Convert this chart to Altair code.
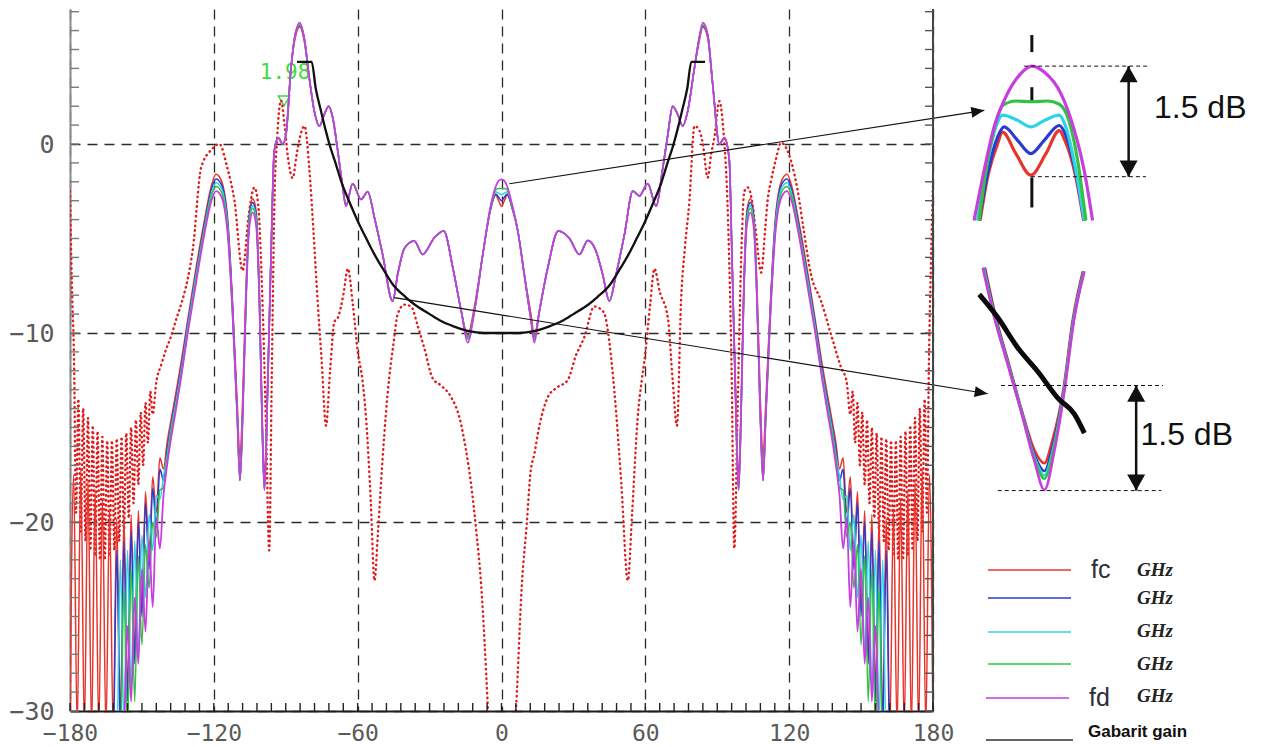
import math
import altair as alt
import pandas as pd

# ------------------------------------------------------------------
# Main radiation pattern: angle (deg) and gain (dB)
# ------------------------------------------------------------------
ANGLE = [
    -180, -178.5, -177, -175.5, -174, -172.5, -171, -169.5, -168, -166.5,
    -165, -163.5, -162, -160.5, -159, -157.5, -156, -154.5, -153, -151.5,
    -150, -148.5, -147, -145.5, -144, -142.5, -141,
    -139.5, -138, -136, -133.7, -131, -128, -124, -121, -119.1, -117,
    -114.2, -112.1, -110.2, -109.1, -108, -106.6, -105.2, -103.8, -102.4, -101,
    -99.9, -98.9, -97.5, -96.1, -94.8, -93.1, -91.3, -89.9, -87.8, -85.7,
    -84.2, -82.3, -80.2, -78.1, -76, -73.9, -72.1, -70.4, -68.3, -66.2,
    -64.9, -62.1, -58.6, -55.8, -53, -49.6, -45.4, -43.3, -40.5, -36.4,
    -32.9, -28, -24.1, -20.3, -16.8, -14.1, -11.3, -7.8, -4.4, -2.4, -1.2, 0,
    1.2, 2.4, 4.4, 6.8, 9.5, 12.3, 13.7, 15.8, 19.3, 23.7, 28.3, 32.5, 36, 39.4,
    42.2, 45, 47.8, 51.3, 54.8, 57.5, 61, 64.5, 67.3, 69.4, 71.4, 73.5, 75.6,
    77.7, 80.5, 82.5, 84, 86, 88.1, 90.9, 93, 95, 96.1, 97.5, 98.9, 99.9, 101,
    102.4, 103.8, 105.2, 106.6, 108, 109.1, 110.2, 112.1, 114.2, 117, 119.1,
    121, 124, 128, 131, 133.7, 136, 138, 139.5,
    141, 142.5, 144, 145.5, 147, 148.5, 150, 151.5, 153, 154.5, 156, 157.5,
    159, 160.5, 162, 163.5, 165, 166.5, 168, 169.5, 171, 172.5, 174, 175.5,
    177, 178.5, 180,
]

# fd (magenta) curve
GAIN_FD = [
    -32, -32, -32, -32, -32, -32, -32, -32, -32, -32,
    -32, -32, -32, -32, -32, -31, -25.5, -29.5, -24, -27.5,
    -22.5, -25.8, -21.0, -24.5, -19.8, -21.4, -18.6,
    -17.0, -15.7, -14.2, -12.4, -10.1, -7.8, -4.8, -3.0, -2.49, -2.75,
    -4.8, -9.2, -14.5, -17.8, -14.5, -8.3, -4.4, -3.63, -4.25, -8.3,
    -14.5, -18.3, -12.7, -5.7, -0.37, 0.33, 0.0, 0.5, 4.04, 5.98,
    6.42, 5.62, 3.51, 1.75, 0.95, 1.57, 2.0, 1.39, -0.37, -2.31,
    -3.28, -2.1, -2.93, -2.52, -3.9, -5.84, -8.31, -6.9, -5.52, -5.13,
    -5.84, -4.96, -4.6, -6.55, -8.84, -10.51, -8.84, -5.84, -3.19, -2.25, -1.95, -1.87,
    -1.95, -2.25, -3.19, -4.6, -6.9, -9.3, -10.51, -8.84, -6.55, -4.6, -4.99, -5.84, -5.1, -5.66,
    -6.9, -8.31, -6.9, -4.78, -2.49, -2.75, -2.1, -3.28, -1.25, 0.51, 2.0, 1.57, 0.95,
    1.75, 4.04, 5.62, 6.42, 5.8, 3.16, 0.0, 0.33, -0.8, -5.7, -12.7, -18.3, -14.5, -8.3,
    -4.25, -3.63, -4.4, -8.3, -14.5, -17.8, -14.5, -9.2, -4.8, -2.75, -2.49,
    -3.0, -4.8, -7.8, -10.1, -12.4, -14.2, -15.7, -17.0,
    -18.6, -21.4, -19.8, -24.5, -21.0, -25.8, -22.5, -27.5, -24, -29.5, -25.5, -31,
    -32, -32, -32, -32, -32, -32, -32, -32, -32, -32, -32, -32,
    -32, -32, -32,
]

# fc (red) readings where it departs from fd
GAIN_FC = {
    -180: -31, -178.5: -17.5, -177: -31, -175.5: -17.2, -174: -31, -172.5: -17.8,
    -171: -31, -169.5: -18.3, -168: -31, -166.5: -18.8, -165: -31, -163.5: -19.3,
    -162: -31, -160.5: -19.8, -159: -30.5, -157.5: -19.8, -156: -29, -154.5: -19.6,
    -153: -27, -151.5: -19.4, -150: -24.5, -148.5: -18.4, -147: -22, -145.5: -17.6,
    -144: -19.5, -142.5: -16.6, -141: -17.2,
    -139.5: -15.8, -138: -14.7, -136: -13.3, -133.7: -11.6, -131: -9.4, -128: -7.0,
    -124: -4.1, -121: -2.2, -119.1: -1.6, -117: -1.9, -114.2: -4.0, -112.1: -8.6,
    -110.2: -13.8, -109.1: -16.6, -108: -13.6, -106.6: -7.6, -105.2: -3.7,
    -103.8: -2.9, -102.4: -3.5, -101: -7.7, -99.9: -14.0, -98.9: -17.4, -97.5: -12.3,
    -85.7: 5.8, -84.2: 6.2, -82.3: 5.45,
    -14.1: -10.11, -11.3: -8.6, -4.4: -3.4, -2.4: -2.7, -1.2: -3.0, 0: -3.3,
    1.2: -3.0, 2.4: -2.7, 4.4: -3.4, 12.3: -9.0, 13.7: -10.11,
    82.5: 5.45, 84: 6.2, 86: 5.6,
    97.5: -12.3, 98.9: -17.4, 99.9: -14.0, 101: -7.7, 102.4: -3.5, 103.8: -2.9,
    105.2: -3.7, 106.6: -7.6, 108: -13.6, 109.1: -16.6, 110.2: -13.8, 112.1: -8.6,
    114.2: -4.0, 117: -1.9, 119.1: -1.6, 121: -2.2, 124: -4.1, 128: -7.0, 131: -9.4,
    133.7: -11.6, 136: -13.3, 138: -14.7, 139.5: -15.8,
    141: -17.2, 142.5: -16.6, 144: -19.5, 145.5: -17.6, 147: -22, 148.5: -18.4,
    150: -24.5, 151.5: -19.4, 153: -27, 154.5: -19.6, 156: -29, 157.5: -19.8,
    159: -30.5, 160.5: -19.8, 162: -31, 163.5: -19.3, 165: -31, 166.5: -18.8,
    168: -31, 169.5: -18.3, 171: -31, 172.5: -17.8, 174: -31, 175.5: -17.2,
    177: -31, 178.5: -17.5, 180: -31,
}

# second frequency (blue)
GAIN_F2 = {
    -160.5: -21.5, -159: -31, -157.5: -21, -156: -29.5, -154.5: -20.5, -153: -27.5,
    -151.5: -20, -150: -25, -148.5: -19, -147: -22.5, -145.5: -18.2, -144: -20.3,
    -142.5: -17.2, -141: -17.8, -139.5: -16.2, -138: -15.0, -136: -13.6,
    -133.7: -11.9, -131: -9.6, -128: -7.25, -124: -4.3, -121: -2.4, -119.1: -1.85,
    -117: -2.1, -114.2: -4.2, -112.1: -8.8,
    -105.2: -3.9, -103.8: -3.1, -102.4: -3.7, -84.2: 6.25,
    -14.1: -10.22, -4.4: -3.35, -2.4: -2.65, -1.2: -2.82, 0: -3.0,
    1.2: -2.82, 2.4: -2.65, 4.4: -3.35, 13.7: -10.22, 84: 6.25,
    102.4: -3.7, 103.8: -3.1, 105.2: -3.9,
    112.1: -8.8, 114.2: -4.2, 117: -2.1, 119.1: -1.85, 121: -2.4, 124: -4.3,
    128: -7.25, 131: -9.6, 133.7: -11.9, 136: -13.6, 138: -15.0, 139.5: -16.2,
    141: -17.8, 142.5: -17.2, 144: -20.3, 145.5: -18.2, 147: -22.5, 148.5: -19,
    150: -25, 151.5: -20, 153: -27.5, 154.5: -20.5, 156: -29.5, 157.5: -21,
    159: -31, 160.5: -21.5,
}

# third frequency (cyan)
GAIN_F3 = {
    -159: -22, -157.5: -30.5, -156: -21.5, -154.5: -29, -153: -21, -151.5: -27,
    -150: -20.7, -148.5: -24, -147: -19.6, -145.5: -21.5, -144: -18.6,
    -142.5: -18.8, -141: -17.6, -139.5: -16.5, -138: -15.2, -136: -13.8,
    -133.7: -12.1, -131: -9.8, -128: -7.4, -124: -4.5, -121: -2.6, -119.1: -2.05,
    -117: -2.3, -114.2: -4.4,
    -105.2: -4.05, -103.8: -3.25, -102.4: -3.9, -84.2: 6.3,
    -14.1: -10.28, -4.4: -3.3, -2.4: -2.53, -1.2: -2.6, 0: -2.69,
    1.2: -2.6, 2.4: -2.53, 4.4: -3.3, 13.7: -10.28, 84: 6.3,
    102.4: -3.9, 103.8: -3.25, 105.2: -4.05,
    114.2: -4.4, 117: -2.3, 119.1: -2.05, 121: -2.6, 124: -4.5, 128: -7.4,
    131: -9.8, 133.7: -12.1, 136: -13.8, 138: -15.2, 139.5: -16.5,
    141: -17.6, 142.5: -18.8, 144: -18.6, 145.5: -21.5, 147: -19.6, 148.5: -24,
    150: -20.7, 151.5: -27, 153: -21, 154.5: -29, 156: -21.5, 157.5: -30.5, 159: -22,
}

# fourth frequency (green)
GAIN_F4 = {
    -157.5: -23.5, -156: -31, -154.5: -22.5, -153: -29.5, -151.5: -21.8,
    -150: -26.5, -148.5: -21.2, -147: -23.5, -145.5: -20, -144: -20.8,
    -142.5: -18.3, -141: -18.2, -139.5: -16.7, -138: -15.4, -136: -14.0,
    -133.7: -12.3, -131: -10.0, -128: -7.6, -124: -4.6, -121: -2.75,
    -119.1: -2.25, -117: -2.5, -114.2: -4.6,
    -105.2: -4.2, -103.8: -3.4, -102.4: -4.05, -84.2: 6.3,
    -14.1: -10.33, -4.4: -3.25, -2.4: -2.42, -1.2: -2.36, 0: -2.36,
    1.2: -2.36, 2.4: -2.42, 4.4: -3.25, 13.7: -10.33, 84: 6.3,
    102.4: -4.05, 103.8: -3.4, 105.2: -4.2,
    114.2: -4.6, 117: -2.5, 119.1: -2.25, 121: -2.75, 124: -4.6, 128: -7.6,
    131: -10.0, 133.7: -12.3, 136: -14.0, 138: -15.4, 139.5: -16.7,
    141: -18.2, 142.5: -18.3, 144: -20.8, 145.5: -20, 147: -23.5, 148.5: -21.2,
    150: -26.5, 151.5: -21.8, 153: -29.5, 154.5: -22.5, 156: -31, 157.5: -23.5,
}

# red dotted reference pattern
DOT_ANGLE = [
    -180, -179.2, -178.3, -177.5, -176.5, -175.5, -174.5, -173.5, -172.5, -171.5,
    -170.5, -169.5, -168.5, -167.5, -166.5, -165.5, -164.5, -163.5, -162.5, -161.5,
    -160.5, -159.5, -158.5, -157.5, -156.5, -155.5, -154.5, -153.5, -152.5, -151.5,
    -150.5, -149.5, -148.5, -147.5, -146.5, -145.5, -144, -142, -140, -137.9,
    -135.5, -133.7, -131, -128.8, -125.3, -121, -117.7, -114.5, -111.4, -108,
    -105.5, -103.1, -101.5, -99.8, -98.2, -96.9, -95.8, -94.8, -93.5, -92,
    -90.5, -89, -87.1, -85.5, -84, -82.2, -80.2, -78.5, -76.7, -75,
    -73.2, -71.5, -69.7, -68.3, -66, -64.1, -62, -60, -58, -56.5,
    -54.5, -53, -51.5, -50.3, -47.5, -45, -43.3, -40.5, -37.7, -35,
    -32.2, -28.7, -25, -21, -17.5, -14.8, -12.7, -10.5, -8.5, -5.7, -4.5,
    4.5, 6.1, 8.5, 10.6, 12.0, 13.7, 16.0, 19.3, 23.0, 27.6,
    31.0, 34.6, 38.7, 41.0, 43.0, 45.0, 47.1, 50.0, 52.7, 54.5,
    56.8, 58.5, 59.6, 62.0, 63.8, 66.0, 69.4, 71.4, 73.2, 74.9,
    76.5, 78.4, 80.5, 82.2, 84.0, 86.0, 87.5, 88.8, 90.9, 92.5,
    94.5, 96.0, 97.1, 98.5, 100.0, 101.3, 102.7, 104.5, 106.0, 108.3,
    110.0, 111.0, 112.4, 114.5, 116.6, 118.7, 121.0, 123.6, 126.0, 129.1,
    133.3, 137.5, 141.6, 144.0, 145.5, 146.5, 147.5, 148.5, 149.5, 150.5,
    151.5, 152.5, 153.5, 154.5, 155.5, 156.5, 157.5, 158.5, 159.5, 160.5,
    161.5, 162.5, 163.5, 164.5, 165.5, 166.5, 167.5, 168.5, 169.5, 170.5,
    171.5, 172.5, 173.5, 174.5, 175.5, 176.5, 177.5, 178.3, 179.2, 180,
]
DOT_GAIN = [
    -2.5, -7.5, -11.5, -19.5, -13.5, -20.5, -14.0, -21.0, -14.5, -21.5,
    -14.9, -21.8, -15.2, -22.0, -15.5, -22.0, -15.7, -21.8, -15.7, -21.5,
    -15.6, -21.0, -15.5, -20.5, -15.3, -19.8, -15.0, -19.0, -14.6, -18.0,
    -14.2, -17.0, -13.7, -15.8, -13.1, -14.3, -12.6, -11.7, -10.9, -10.2,
    -9.2, -8.5, -7.2, -5.6, -1.25, -0.3, 0.0, -1.2, -3.0, -6.7,
    -3.8, -2.3, -3.2, -8.0, -15.0, -21.5, -12.0, -3.5, 0.5, 2.3,
    1.0, -0.8, -1.8, -0.6, 0.4, 0.95, -1.25, -4.5, -8.3, -11.5,
    -14.9, -12.0, -9.4, -9.2, -8.0, -6.6, -8.5, -10.95, -12.5, -14.5,
    -19.0, -23.1, -20.5, -18.0, -13.2, -10.5, -9.0, -8.5, -8.6, -9.6,
    -10.8, -12.4, -12.8, -13.4, -14.5, -16.2, -18.0, -20.5, -23.3, -29.8, -33,
    -33, -29.8, -23.3, -20.0, -17.5, -16.4, -14.8, -13.4, -12.9, -12.5,
    -11.2, -10.2, -8.6, -8.7, -9.0, -10.5, -13.1, -18.0, -23.1, -19.5,
    -14.5, -12.5, -11.5, -8.5, -6.6, -7.8, -9.2, -12.5, -14.9, -8.3,
    -5.5, -3.0, 0.95, 0.8, 0.0, -1.78, -0.5, 0.33, 2.27, 0.8,
    -4.0, -12.0, -21.4, -14.0, -6.0, -2.5, -2.3, -3.0, -4.5, -6.8,
    -4.5, -3.0, -1.96, -0.8, 0.07, -0.2, -1.0, -2.5, -4.5, -6.9,
    -8.3, -10.1, -11.8, -12.6, -14.3, -13.1, -15.8, -13.7, -17.0, -14.2,
    -18.0, -14.6, -19.0, -15.0, -19.8, -15.3, -20.5, -15.5, -21.0, -15.6,
    -21.5, -15.7, -21.8, -15.7, -22.0, -15.5, -22.0, -15.2, -21.8, -14.9,
    -21.5, -14.5, -21.0, -14.0, -20.5, -13.5, -19.5, -11.5, -6.0, -2.0,
]

# "Gabarit gain" template
GAB_ANGLE = [-85.3, -79.2, -77.5, -75.5, -73.5, -71.8, -69, -66.9, -63, -60, -56, -53,
             -49, -45.4, -40, -36.4, -30, -25.2, -20, -14.1, -7.1, 0, 7.1, 14.1, 20,
             25.2, 30, 36.4, 40, 45.4, 49, 53, 56, 60, 63, 66.9, 69, 71.8, 73.5, 75.5,
             77.5, 79.2, 84.9]
GAB_GAIN = [4.35, 4.35, 2.95, 1.85, 0.8, 0.0, -1.1, -1.96, -3.2, -4.07, -5.1, -5.84,
            -6.7, -7.42, -8.1, -8.48, -9.0, -9.37, -9.65, -9.89, -10.0, -10.0, -10.0,
            -9.89, -9.65, -9.37, -9.0, -8.48, -8.1, -7.42, -6.7, -5.84, -5.1, -4.07,
            -3.2, -1.96, -1.1, 0.0, 0.8, 1.85, 2.95, 4.35, 4.35]

# cursor readout
MARKER_LABEL = "1.98"
MARKER_ANGLE, MARKER_TEXT_GAIN = -90.3, 3.76
MARKER_TRI_ANGLE, MARKER_TRI_GAIN = -90.7, 2.28

# annotation arrows (main plot coordinates: from -> to)
ARROW_A0 = [3.3, -44.7]
ARROW_G0 = [-2.1, -8.13]
ARROW_A1 = [201.4, 202.8]
ARROW_G1 = [1.78, -13.21]

# ---------------- inset 1 (zoom on main beam) ----------------
IN1_T = {
    "fc": [-4.31, -3.69, -2.86, -2.44, -1.33, -0.08, 1.17, 2.28, 2.75, 3.67, 4.31],
    "f2": [-4.39, -3.69, -2.86, -2.31, -1.19, -0.08, 1.03, 2.28, 2.83, 3.67, 4.36],
    "f3": [-4.53, -3.83, -3.0, -2.44, -1.19, -0.08, 1.08, 2.28, 2.83, 3.67, 4.36],
    "f4": [-4.39, -3.69, -3.0, -2.42, -1.33, 0.0, 1.33, 2.25, 3.08, 3.81, 4.5],
    "fd": [-4.81, -3.98, -3.14, -2.03, -0.92, 0.0, 1.03, 2.42, 3.53, 4.36, 5.06],
}
IN1_D = {
    "fc": [-3.95, -3.37, -2.92, -2.76, -3.05, -3.34, -3.05, -2.74, -2.87, -3.37, -3.95],
    "f2": [-3.95, -3.32, -2.83, -2.69, -2.87, -3.05, -2.87, -2.67, -2.80, -3.32, -3.95],
    "f3": [-3.95, -3.28, -2.69, -2.53, -2.60, -2.69, -2.60, -2.53, -2.69, -3.28, -3.95],
    "f4": [-3.95, -3.14, -2.63, -2.40, -2.34, -2.35, -2.34, -2.38, -2.60, -3.14, -3.95],
    "fd": [-3.95, -3.28, -2.69, -2.24, -1.97, -1.87, -1.95, -2.24, -2.73, -3.28, -3.95],
}
IN1_AXIS_SEG = [(-1.451, -1.681), (-2.154, -2.343), (-3.37, -3.775)]
IN1_LEVELS = [-1.87, -3.36]
IN1_LEVEL_T0 = [-0.64, -0.08]
IN1_LEVEL_T1 = [9.86, 9.5]
IN1_ARROW_T = 8.06
IN1_TEXT_T, IN1_TEXT_D = 10.17, -2.44

# ---------------- inset 2 (zoom on first null vs template) ----------------
IN2_T = {
    "fc": [-4.94, -4.03, -2.94, -1.86, -0.78, 0.0, 0.64, 1.56, 2.39, 3.2],
    "f2": [-5.0, -4.08, -2.98, -1.89, -0.8, 0.0, 0.7, 1.6, 2.44, 3.25],
    "f3": [-5.05, -4.12, -3.01, -1.91, -0.81, 0.0, 0.75, 1.62, 2.46, 3.28],
    "f4": [-5.08, -4.14, -3.03, -1.92, -0.82, 0.0, 0.78, 1.64, 2.48, 3.3],
    "fd": [-5.13, -4.17, -3.05, -1.94, -0.83, 0.0, 0.83, 1.67, 2.5, 3.33],
}
IN2_D = {
    "fc": [-7.32, -8.03, -8.70, -9.37, -9.94, -10.11, -9.80, -9.08, -8.03, -7.37],
    "f2": [-7.32, -8.03, -8.70, -9.37, -10.0, -10.22, -9.86, -9.08, -8.03, -7.37],
    "f3": [-7.32, -8.03, -8.70, -9.37, -10.03, -10.28, -9.89, -9.08, -8.03, -7.37],
    "f4": [-7.32, -8.03, -8.70, -9.37, -10.05, -10.33, -9.91, -9.08, -8.03, -7.37],
    "fd": [-7.32, -8.03, -8.70, -9.37, -10.08, -10.49, -9.94, -9.08, -8.03, -7.37],
}
IN2_GAB_T = [-5.42, -3.88, -2.22, -0.55, 1.12, 2.5, 3.33]
IN2_GAB_D = [-7.70, -8.03, -8.46, -8.80, -9.18, -9.41, -9.68]
IN2_LEVELS = [-9.0, -10.5]
IN2_LEVEL_T0 = [-3.61, -3.88]
IN2_LEVEL_T1 = [9.87, 9.73]
IN2_ARROW_T = 7.64
IN2_TEXT_T, IN2_TEXT_D = 8.0, -9.71
DELTA_LABEL = "1.5 dB"

# ---------------- legend ----------------
SERIES = ["fc", "f2", "f3", "f4", "fd"]
COLORS = {"fc": "#e8352c", "f2": "#2a3bd0", "f3": "#2fd3e6", "f4": "#33c23f",
          "fd": "#c93de0", "gab": "#111111", "dot": "#e01a1a"}
LEGEND_PREFIX = ["fc", "", "", "", "fd"]
LEGEND_UNIT = "GHz"
LEGEND_GAB = "Gabarit gain"

# ------------------------------------------------------------------
assert len(ANGLE) == len(GAIN_FD)
assert len(DOT_ANGLE) == len(DOT_GAIN)
assert len(GAB_ANGLE) == len(GAB_GAIN)

OVR = {"fc": GAIN_FC, "f2": GAIN_F2, "f3": GAIN_F3, "f4": GAIN_F4, "fd": {}}


def series_gain(s):
    o = OVR[s]
    return [o.get(a, g) for a, g in zip(ANGLE, GAIN_FD)]


# layout
W_MAIN, H_MAIN = 863, 702
X_DOM = [-180, 180]
Y_DOM = [-30, 7.143]
X_TICKS = [-180, -120, -60, 0, 60, 120, 180]
Y_TICKS = [0, -10, -20, -30]
X_MINOR = list(range(-180, 181, 6))
Y_MINOR = list(range(-30, 8))
GRID_DASH = [10, 7]

xs = alt.Scale(domain=X_DOM, nice=False, zero=False)
ys = alt.Scale(domain=Y_DOM, nice=False, zero=False)
x_axis = alt.Axis(values=X_TICKS, grid=True, gridDash=GRID_DASH, gridColor="#2a2a2a",
                  gridWidth=1.3, ticks=False, tickSize=0, labelFont="DejaVu Sans Mono",
                  labelFontSize=23, labelColor="#5a5a5a", labelPadding=11,
                  labelFlush=False, labelOverlap=False, domainColor="#1e1e1e",
                  domainWidth=2, title=None)
y_axis = alt.Axis(values=Y_TICKS, grid=True, gridDash=GRID_DASH, gridColor="#2a2a2a",
                  gridWidth=1.3, ticks=False, tickSize=0, labelFont="DejaVu Sans Mono",
                  labelFontSize=25, labelColor="#5a5a5a", labelPadding=16,
                  labelOverlap=False, domainColor="#8a8a8a", domainWidth=2, title=None)


def X(f="a"):
    return alt.X(f"{f}:Q", scale=xs, axis=x_axis)


def Y(f="g"):
    return alt.Y(f"{f}:Q", scale=ys, axis=y_axis)


layers = []
# cursor readout (behind curves)
layers.append(
    alt.Chart(pd.DataFrame({"a": [MARKER_ANGLE], "g": [MARKER_TEXT_GAIN], "txt": [MARKER_LABEL]}))
    .mark_text(font="DejaVu Sans Mono", fontSize=21, color="#3fdc3f", align="center",
               baseline="middle")
    .encode(x=X(), y=Y(), text="txt:N")
)
layers.append(
    alt.Chart(pd.DataFrame({"a": [MARKER_TRI_ANGLE], "g": [MARKER_TRI_GAIN]}))
    .mark_point(shape="triangle-down", size=130, filled=False, strokeWidth=1.5,
                color="#3fdc3f", opacity=1)
    .encode(x=X(), y=Y())
)
# dotted reference
layers.append(
    alt.Chart(pd.DataFrame({"a": DOT_ANGLE, "g": DOT_GAIN}))
    .mark_line(color=COLORS["dot"], strokeWidth=2.4, strokeDash=[0.5, 4.3], strokeCap="round",
               interpolate="monotone", clip=True)
    .encode(x=X(), y=Y())
)
# five frequency curves
for s in SERIES:
    layers.append(
        alt.Chart(pd.DataFrame({"a": ANGLE, "g": series_gain(s)}))
        .mark_line(color=COLORS[s], strokeWidth=1.8 if s == "fd" else 1.5,
                   interpolate="monotone", clip=True)
        .encode(x=X(), y=Y())
    )
# template
layers.append(
    alt.Chart(pd.DataFrame({"a": GAB_ANGLE, "g": GAB_GAIN}))
    .mark_line(color=COLORS["gab"], strokeWidth=2.3, interpolate="monotone", clip=True)
    .encode(x=X(), y=Y())
)
# arrows towards insets
SX = W_MAIN / (X_DOM[1] - X_DOM[0])
SY = H_MAIN / (Y_DOM[1] - Y_DOM[0])
rot = [math.degrees(math.atan2(-(g1 - g0) * SY, (a1 - a0) * SX)) % 360
       for a0, g0, a1, g1 in zip(ARROW_A0, ARROW_G0, ARROW_A1, ARROW_G1)]
arrows = pd.DataFrame({"a": ARROW_A0, "g": ARROW_G0, "a2": ARROW_A1, "g2": ARROW_G1,
                       "rot": rot})
layers.append(
    alt.Chart(arrows).mark_rule(color="#111", strokeWidth=1.1)
    .encode(x=X(), y=Y(), x2=alt.X2("a2"), y2=alt.Y2("g2"))
)
HEAD_R = "M0,0L-2,-0.85L-2,0.85Z"
layers.append(
    alt.Chart(arrows).mark_point(shape=HEAD_R, size=169, filled=True, color="#111",
                                 opacity=1, strokeWidth=0)
    .encode(x=X("a2"), y=Y("g2"), angle=alt.Angle("rot:Q", scale=None))
)
# right frame and inner ticks
layers.append(
    alt.Chart(pd.DataFrame({"a": [X_DOM[1]]})).mark_rule(color="#444", strokeWidth=2)
    .encode(x=X())
)
layers.append(
    alt.Chart(pd.DataFrame({"a": [X_DOM[0]] * len(Y_MINOR), "g": Y_MINOR}))
    .mark_tick(orient="horizontal", size=9, thickness=1.4, xOffset=4.5, color="#7a7a7a",
               opacity=1)
    .encode(x=X(), y=Y())
)
layers.append(
    alt.Chart(pd.DataFrame({"a": [X_DOM[1]] * len(Y_MINOR), "g": Y_MINOR}))
    .mark_tick(orient="horizontal", size=8, thickness=1.4, xOffset=-4, color="#555",
               opacity=1)
    .encode(x=X(), y=Y())
)
layers.append(
    alt.Chart(pd.DataFrame({"a": X_MINOR, "g": [Y_DOM[0]] * len(X_MINOR)}))
    .mark_tick(orient="vertical", size=8, thickness=1.4, yOffset=-4, color="#222",
               opacity=1)
    .encode(x=X(), y=Y())
)
main = alt.layer(*layers).properties(width=W_MAIN, height=H_MAIN)

# ------------------------------------------------------------------
HEAD_UP = "M0,0L-1,1.8L1,1.8Z"
HEAD_DOWN = "M0,0L-1,-1.8L1,-1.8Z"
TEXT_FONT = "Liberation Sans"


def inset_panel(xsc, ysc, T, D, curve_w, extra_before, extra_after, levels, lt0, lt1,
                arrow_t, text_t, text_d, width, height):
    def IX(f="t"):
        return alt.X(f"{f}:Q", scale=xsc, axis=None)

    def IY(f="d"):
        return alt.Y(f"{f}:Q", scale=ysc, axis=None)

    ls = list(extra_before(IX, IY))
    for s in SERIES:
        ls.append(
            alt.Chart(pd.DataFrame({"t": T[s], "d": D[s]}))
            .mark_line(color=COLORS[s], strokeWidth=curve_w, interpolate="monotone")
            .encode(x=IX(), y=IY())
        )
    ls += list(extra_after(IX, IY))
    ls.append(
        alt.Chart(pd.DataFrame({"t": lt0, "t2": lt1, "d": levels}))
        .mark_rule(color="#111", strokeWidth=1, strokeDash=[4, 3])
        .encode(x=IX(), x2=alt.X2("t2"), y=IY())
    )
    ls.append(
        alt.Chart(pd.DataFrame({"t": [arrow_t], "d": [levels[0]], "d2": [levels[1]]}))
        .mark_rule(color="#111", strokeWidth=2.5)
        .encode(x=IX(), y=IY(), y2=alt.Y2("d2"))
    )
    ls.append(
        alt.Chart(pd.DataFrame({"t": [arrow_t], "d": [levels[0]]}))
        .mark_point(shape=HEAD_UP, size=324, filled=True, color="#111", opacity=1,
                    strokeWidth=0)
        .encode(x=IX(), y=IY())
    )
    ls.append(
        alt.Chart(pd.DataFrame({"t": [arrow_t], "d": [levels[1]]}))
        .mark_point(shape=HEAD_DOWN, size=324, filled=True, color="#111", opacity=1,
                    strokeWidth=0)
        .encode(x=IX(), y=IY())
    )
    ls.append(
        alt.Chart(pd.DataFrame({"t": [text_t], "d": [text_d], "txt": [DELTA_LABEL]}))
        .mark_text(font=TEXT_FONT, fontSize=32, color="#111", align="left",
                   baseline="middle")
        .encode(x=IX(), y=IY(), text="txt:N")
    )
    return alt.layer(*ls).properties(width=width, height=height)


def in1_before(IX, IY):
    yield (
        alt.Chart(pd.DataFrame({"t": [0.0] * len(IN1_AXIS_SEG),
                                "d": [p[0] for p in IN1_AXIS_SEG],
                                "d2": [p[1] for p in IN1_AXIS_SEG]}))
        .mark_rule(color="#111", strokeWidth=3)
        .encode(x=IX(), y=IY(), y2=alt.Y2("d2"))
    )


def nothing(IX, IY):
    return []


def in2_after(IX, IY):
    yield (
        alt.Chart(pd.DataFrame({"t": IN2_GAB_T, "d": IN2_GAB_D}))
        .mark_line(color="#0a0a0a", strokeWidth=5, interpolate="monotone")
        .encode(x=IX(), y=IY())
    )


RW = 290
inset1 = inset_panel(alt.Scale(domain=[-5.9, 18.25], nice=False, zero=False),
                     alt.Scale(domain=[-4.2, -1.1], nice=False, zero=False),
                     IN1_T, IN1_D, 3.2, in1_before, nothing, IN1_LEVELS, IN1_LEVEL_T0,
                     IN1_LEVEL_T1, IN1_ARROW_T, IN1_TEXT_T, IN1_TEXT_D, RW, 230)
inset2 = inset_panel(alt.Scale(domain=[-6.94, 17.2], nice=False, zero=False),
                     alt.Scale(domain=[-10.72, -7.08], nice=False, zero=False),
                     IN2_T, IN2_D, 2.6, nothing, in2_after, IN2_LEVELS, IN2_LEVEL_T0,
                     IN2_LEVEL_T1, IN2_ARROW_T, IN2_TEXT_T, IN2_TEXT_D, RW, 255)

# ---------------- legend panel ----------------
LEG_H = 228
LEG_ROW_Y = [52, 80, 114, 146, 180, 222]
LEG_X0 = [27, 27, 27, 27, 25, 25]
LEG_X1 = [110, 110, 110, 110, 108, 112]
LEG_PREFIX_X = [130, 130, 130, 130, 128]
LEG_UNIT_X = 176
LEG_UNIT_Y = [52, 80, 113, 146, 178]
LEG_GAB_X, LEG_GAB_Y = 127, 214

lxs = alt.Scale(domain=[0, RW], nice=False, zero=False)
lys = alt.Scale(domain=[0, LEG_H], nice=False, zero=False, reverse=True)


def LX(f="x"):
    return alt.X(f"{f}:Q", scale=lxs, axis=None)


def LY(f="y"):
    return alt.Y(f"{f}:Q", scale=lys, axis=None)


leg_colors = [COLORS[s] for s in SERIES] + ["#333333"]
leg_lines = pd.DataFrame({"x": LEG_X0, "x2": LEG_X1, "y": LEG_ROW_Y, "c": leg_colors})
leg_layers = [
    alt.Chart(leg_lines).mark_rule(strokeWidth=1.3)
    .encode(x=LX(), x2=alt.X2("x2"), y=LY(), color=alt.Color("c:N", scale=None)),
    alt.Chart(pd.DataFrame({"x": LEG_PREFIX_X, "y": LEG_ROW_Y[:5], "txt": LEGEND_PREFIX}))
    .mark_text(font=TEXT_FONT, fontSize=25, color="#2b2b3b", align="left", baseline="middle")
    .encode(x=LX(), y=LY(), text="txt:N"),
    alt.Chart(pd.DataFrame({"x": [LEG_UNIT_X] * 5, "y": LEG_UNIT_Y, "txt": [LEGEND_UNIT] * 5}))
    .mark_text(font="Liberation Serif", fontSize=19, fontStyle="italic", fontWeight="bold",
               color="#222", align="left", baseline="middle")
    .encode(x=LX(), y=LY(), text="txt:N"),
    alt.Chart(pd.DataFrame({"x": [LEG_GAB_X], "y": [LEG_GAB_Y], "txt": [LEGEND_GAB]}))
    .mark_text(font=TEXT_FONT, fontSize=17, fontWeight="bold", color="#111", align="left",
               baseline="middle")
    .encode(x=LX(), y=LY(), text="txt:N"),
]
legend = alt.layer(*leg_layers).properties(width=RW, height=LEG_H)

right = alt.vconcat(inset1, inset2, legend, spacing=12, bounds="flush")
chart = (
    alt.hconcat(main, right, spacing=28, bounds="flush")
    .properties(padding=0)
    .configure_view(strokeWidth=0)
)
chart.save("out.html", embed_options={"renderer": "svg", "actions": False})
